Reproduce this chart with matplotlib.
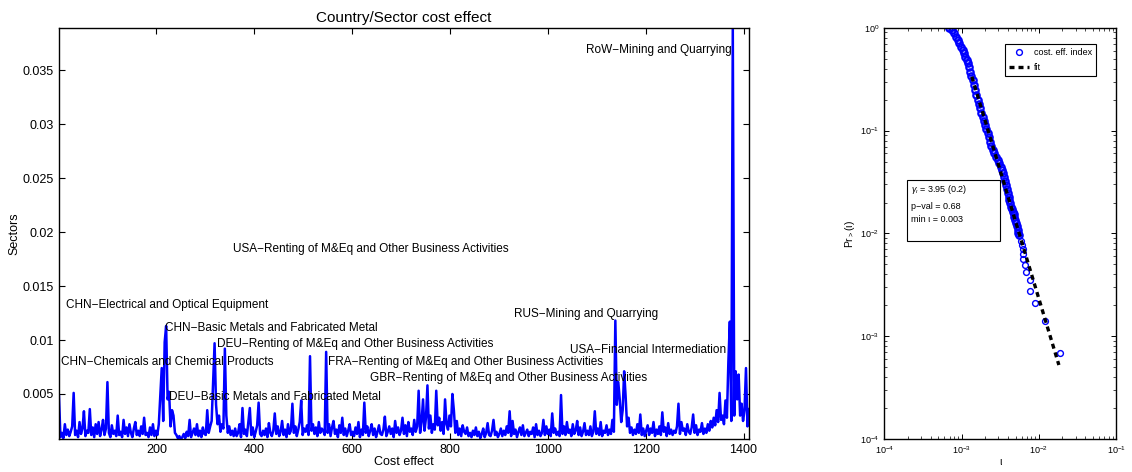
import numpy as np
import matplotlib
matplotlib.use('Agg')
import matplotlib.pyplot as plt
from matplotlib.patches import Rectangle

plt.rcParams['font.family'] = ['Liberation Sans', 'DejaVu Sans']
plt.rcParams['mathtext.fontset'] = 'custom'
plt.rcParams['mathtext.rm'] = 'Liberation Sans'
plt.rcParams['mathtext.it'] = 'Liberation Sans:italic'
plt.rcParams['mathtext.bf'] = 'Liberation Sans:bold'

# cost effect per sector, sampled every 3rd sector (units of 1e-4)
sector_idx = np.arange(1, 1412, 3)
cost_e4 = [
    48, 10, 14, 9, 22, 12, 17, 11, 15, 20, 51, 12, 16, 10, 24, 13, 18, 34, 11, 16,
    14, 36, 12, 19, 10, 22, 13, 24, 11, 17, 26, 12, 18, 61, 14, 10, 21, 13, 16, 11,
    30, 12, 15, 10, 26, 13, 19, 11, 22, 14, 10, 18, 24, 12, 16, 11, 20, 13, 28, 12,
    14, 10, 19, 12, 22, 11, 16, 12, 22, 49, 74, 25, 98, 113, 45, 52, 20, 35, 30, 14,
    12, 9, 11, 8, 10, 13, 9, 15, 11, 26, 10, 14, 18, 12, 22, 11, 16, 10, 19, 13,
    12, 35, 14, 20, 25, 60, 97, 40, 22, 30, 15, 22, 18, 92, 30, 14, 20, 12, 16, 11,
    18, 11, 14, 22, 10, 37, 13, 17, 11, 24, 37, 12, 19, 10, 15, 21, 42, 13, 11, 16,
    12, 18, 10, 23, 14, 11, 16, 32, 13, 20, 11, 15, 25, 12, 17, 10, 22, 13, 16, 41,
    14, 20, 11, 17, 24, 44, 12, 18, 15, 21, 12, 85, 16, 22, 13, 19, 11, 24, 14, 18,
    16, 12, 89, 14, 22, 11, 19, 25, 13, 17, 10, 21, 14, 28, 12, 18, 11, 16, 22, 12,
    15, 11, 19, 13, 24, 10, 17, 12, 42, 14, 20, 11, 16, 22, 12, 18, 10, 15, 21, 13,
    12, 17, 29, 11, 15, 20, 13, 18, 10, 25, 14, 19, 12, 16, 28, 13, 21, 11, 24, 15,
    18, 12, 26, 15, 20, 53, 14, 24, 45, 16, 28, 58, 18, 30, 14, 22, 17, 53, 21, 28,
    16, 24, 13, 45, 22, 17, 30, 20, 50, 35, 14, 25, 12, 18, 11, 21, 15, 13, 19, 11,
    14, 10, 16, 12, 19, 11, 15, 9, 13, 18, 10, 14, 23, 12, 11, 16, 26, 12, 15, 10,
    13, 18, 11, 16, 12, 20, 14, 34, 11, 25, 13, 17, 10, 15, 19, 12, 21, 11, 14, 17,
    11, 15, 13, 19, 10, 22, 12, 16, 11, 14, 26, 12, 20, 13, 17, 11, 32, 14, 18, 12,
    15, 11, 49, 13, 20, 12, 24, 14, 17, 11, 22, 13, 16, 25, 12, 19, 11, 15, 23, 12,
    16, 12, 20, 11, 15, 34, 13, 18, 12, 24, 11, 16, 14, 21, 12, 17, 13, 26, 15, 118,
    40, 61, 45, 24, 35, 71, 48, 20, 28, 14, 19, 12, 17, 13, 22, 14, 31, 12, 18, 11,
    16, 21, 12, 18, 14, 24, 11, 17, 13, 20, 12, 33, 15, 19, 11, 23, 13, 17, 12, 16,
    14, 20, 41, 13, 24, 16, 18, 12, 22, 15, 13, 19, 31, 14, 21, 12, 17, 15, 23, 13,
    18, 14, 22, 16, 25, 19, 28, 21, 35, 24, 51, 26, 30, 22, 44, 28, 80, 117, 25, 389,
    30, 71, 45, 68, 30, 41, 25, 35, 74, 20, 36,
]
cost = np.array(cost_e4) * 1e-4

# annotated sectors: name, x, y
labels = ['CHN−Electrical and Optical Equipment',
          'CHN−Basic Metals and Fabricated Metal',
          'DEU−Renting of M&Eq and Other Business Activities',
          'CHN−Chemicals and Chemical Products',
          'FRA−Renting of M&Eq and Other Business Activities',
          'GBR−Renting of M&Eq and Other Business Activities',
          'DEU−Basic Metals and Fabricated Metal',
          'USA−Renting of M&Eq and Other Business Activities',
          'RUS−Mining and Quarrying',
          'USA−Financial Intermediation',
          'RoW−Mining and Quarrying']
label_x = [16, 217, 324, 5, 550, 637, 225, 356, 930, 1046, 1078]
label_y = [0.0132, 0.0111, 0.00967, 0.0080, 0.0080, 0.00652, 0.00475,
           0.01844, 0.01237, 0.0091, 0.0369]

# complementary cdf of the cost effect index (dense body, then the tail)
tau_body = [6.92e-4, 7.43e-4, 7.88e-4, 8.45e-4, 8.88e-4, 9.33e-4, 9.81e-4,
            1.031e-3, 1.073e-3, 1.117e-3, 1.163e-3, 1.198e-3, 1.246e-3,
            1.284e-3, 1.337e-3, 1.391e-3, 1.448e-3, 1.492e-3, 1.552e-3,
            1.615e-3, 1.664e-3, 1.731e-3, 1.802e-3, 1.875e-3, 1.952e-3,
            2.031e-3, 2.093e-3, 2.178e-3, 2.244e-3, 2.335e-3, 2.430e-3,
            2.529e-3, 2.66e-3, 2.793e-3, 2.937e-3, 3.087e-3, 3.213e-3,
            3.344e-3, 3.48e-3, 3.585e-3, 3.694e-3, 3.768e-3, 3.882e-3, 3.96e-3,
            4.08e-3, 4.162e-3, 4.288e-3, 4.375e-3, 4.508e-3, 4.6e-3, 4.74e-3,
            4.834e-3, 4.981e-3, 5.082e-3, 5.236e-3, 5.341e-3, 5.449e-3, 5.503e-3]
pr_body = [1.0, 0.950, 0.882, 0.818, 0.759, 0.705, 0.654, 0.607, 0.563, 0.523,
           0.485, 0.450, 0.412, 0.374, 0.339, 0.310, 0.277, 0.248, 0.222, 0.198,
           0.181, 0.165, 0.149, 0.137, 0.125, 0.1133, 0.1029, 0.0941, 0.0860,
           0.0781, 0.0709, 0.0648, 0.0601, 0.0558, 0.0518, 0.0481, 0.0446,
           0.0414, 0.0384, 0.0357, 0.0326, 0.0296, 0.0269, 0.0246, 0.0228,
           0.0212, 0.0196, 0.0182, 0.0172, 0.0163, 0.0154, 0.0146, 0.0135,
           0.0126, 0.0117, 0.0108, 0.0102, 0.00967]
tau_tail = [5.90e-3, 6.01e-3, 6.19e-3, 6.32e-3, 6.32e-3, 6.65e-3, 6.85e-3,
            7.63e-3, 7.73e-3, 9.06e-3, 0.0121, 0.0186]
pr_tail = [8.45e-3, 7.73e-3, 7.02e-3, 6.32e-3, 5.61e-3, 4.94e-3, 4.20e-3,
           3.51e-3, 2.78e-3, 2.10e-3, 1.41e-3, 6.95e-4]
fit_x = [1.36e-3, 0.0182]
fit_y = [0.334, 5.27e-4]

fig = plt.figure(figsize=(11.32, 4.72), dpi=100)

# left panel
ax = fig.add_axes([0.0521, 0.0699, 0.6095, 0.8708])
ax.plot(sector_idx, cost, color='blue', lw=1.8)
for name, x, y in zip(labels, label_x, label_y):
    ax.text(x, y, name, fontsize=8.5, ha='left', va='center')
ax.set_xlim(1, 1411)
ax.set_ylim(0.00083, 0.0389)
ax.set_xticks([200, 400, 600, 800, 1000, 1200, 1400])
ax.set_yticks([0.005, 0.01, 0.015, 0.02, 0.025, 0.03, 0.035])
ax.set_yticklabels(['0.005', '0.01', '0.015', '0.02', '0.025', '0.03', '0.035'])
ax.tick_params(direction='in', top=True, right=True, length=4, width=0.8, labelsize=9)
for s in ax.spines.values():
    s.set_linewidth(1.0)
ax.set_title('Country/Sector cost effect', fontsize=11, pad=4)
ax.set_xlabel('Cost effect', fontsize=9, labelpad=0)
ax.set_ylabel('Sectors', fontsize=9, labelpad=2)

# right panel
ax2 = fig.add_axes([0.7812, 0.0693, 0.2047, 0.872])
ax2.loglog(tau_body, pr_body, 'o', mfc='none', mec='blue', ms=4.6, mew=1.6)
ax2.loglog(tau_tail, pr_tail, 'o', mfc='none', mec='blue', ms=4.2, mew=1.0,
           label='cost. eff. index')
ax2.loglog(fit_x, fit_y, color='black', lw=2.4, ls=(0, (1.5, 1.2)), label='fit')
ax2.set_xlim(1e-4, 1e-1)
ax2.set_ylim(1e-4, 1)
ax2.tick_params(which='both', direction='in', top=True, right=True, labelsize=6.5)
ax2.tick_params(which='major', length=3.5, width=0.7)
ax2.tick_params(which='minor', length=2, width=0.5)
for s in ax2.spines.values():
    s.set_linewidth(1.0)
ax2.set_xlabel('ι', fontsize=7.5, labelpad=1)
ax2.set_ylabel('Pr$_{>}$(ι)', fontsize=7.5, labelpad=2)
leg = ax2.legend(loc='upper right', bbox_to_anchor=(0.935, 0.972), fontsize=6.5,
                 fancybox=False, edgecolor='black', framealpha=1,
                 handlelength=2.2, handletextpad=0.5, borderpad=0.5,
                 labelspacing=0.6)
leg.get_frame().set_linewidth(0.8)

ax2.add_patch(Rectangle((0.098, 0.482), 0.401, 0.148, transform=ax2.transAxes,
                        fill=False, edgecolor='black', lw=0.8))
ax2.text(0.114, 0.6057, r'$\gamma_\iota$ = 3.95 (0.2)', transform=ax2.transAxes,
         fontsize=6.5, va='center')
ax2.text(0.114, 0.5651, 'p−val = 0.68', transform=ax2.transAxes, fontsize=6.5,
         va='center')
ax2.text(0.114, 0.5328, 'min ι = 0.003', transform=ax2.transAxes, fontsize=6.5,
         va='center')

fig.savefig('out.png', dpi=100)
